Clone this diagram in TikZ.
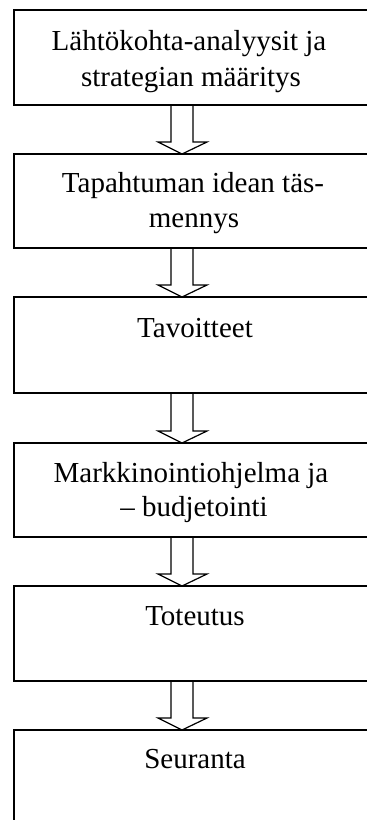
\documentclass[tikz,border=0pt]{standalone}
\usepackage{fontspec}
\setmainfont{Liberation Serif}
\usetikzlibrary{calc}
\tikzset{
  stagebox/.style={draw=black, line width=1.8pt, rectangle, minimum width=364pt, inner sep=0pt, outer sep=0pt, anchor=north west},
  lbl/.style={anchor=base, inner sep=0pt, font=\fontsize{29}{35}\selectfont},
  fatarrow/.style={draw=black, fill=white, line width=1.2pt, line join=miter}
}
\newcommand{\flowarrow}[2]{%
  \filldraw[fatarrow] ($(#1.south west)+(157,0)$) -- ($(#2.north west)+(157,-12)$) -- ($(#2.north west)+(144,-12)$) -- ($(#2.north west)+(168,0)$) -- ($(#2.north west)+(193,-12)$) -- ($(#2.north west)+(179,-12)$) -- ($(#1.south west)+(179,0)$);%
}
\begin{document}
\begin{tikzpicture}[x=1pt, y=-1pt]
\useasboundingbox (0,0) rectangle (367,820);
\clip (0,0) rectangle (367,820);
\fill[white] (0,0) rectangle (367,820);
% boxes
\node[stagebox, minimum height=95pt] (b1) at (14,10) {};
\node[stagebox, minimum height=94pt] (b2) at (14,154) {};
\node[stagebox, minimum height=96pt] (b3) at (14,297) {};
\node[stagebox, minimum height=94pt] (b4) at (14,443) {};
\node[stagebox, minimum height=95pt] (b5) at (14,586) {};
\node[stagebox, minimum height=96pt] (b6) at (14,730) {};
% arrows
\flowarrow{b1}{b2}
\flowarrow{b2}{b3}
\flowarrow{b3}{b4}
\flowarrow{b4}{b5}
\flowarrow{b5}{b6}
% redraw box borders on top
\foreach \b in {b1,b2,b3,b4,b5,b6} {
  \draw[line width=1.8pt] (\b.south west) rectangle (\b.north east);
}
% texts
\node[lbl] (t1a) at (189,50) {Lähtökohta-analyysit ja};
\node[lbl] (t1b) at (191,86) {strategian määritys};
\node[lbl] (t2a) at (193,192) {Tapahtuman idean täs-};
\node[lbl] (t2b) at (194,227) {mennys};
\node[lbl] (t3) at (195,337) {Tavoitteet};
\node[lbl] (t4a) at (191,482) {Markkinointiohjelma ja};
\node[lbl] (t4b) at (194,516) {– budjetointi};
\node[lbl] (t5) at (195,625) {Toteutus};
\node[lbl] (t6) at (195,768) {Seuranta};
\end{tikzpicture}
\end{document}
